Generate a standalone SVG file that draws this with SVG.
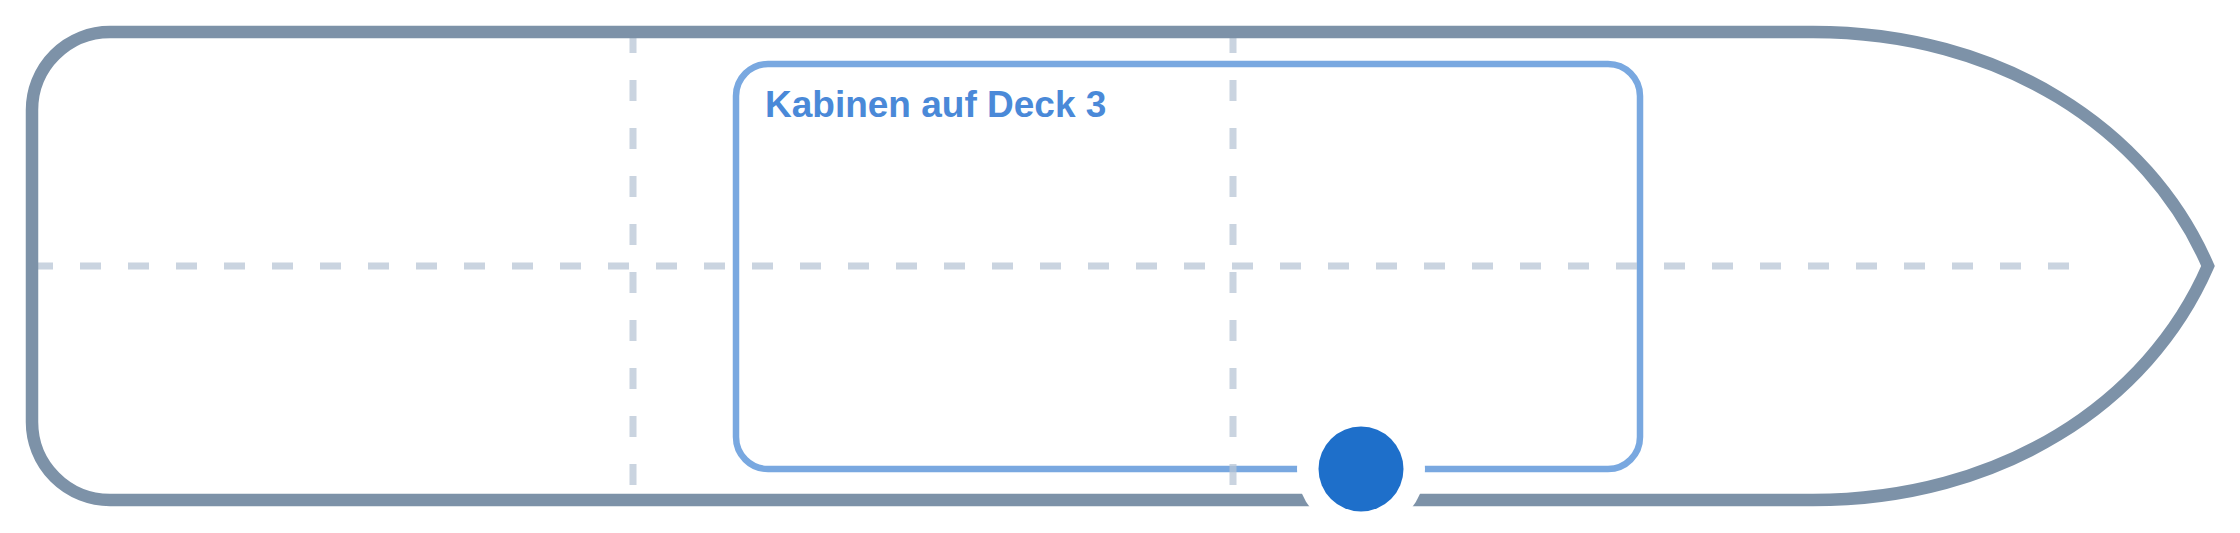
<svg xmlns="http://www.w3.org/2000/svg" width="2240" height="533" viewBox="0 0 2240 533">
  <style>
    .hull { fill: none; stroke: #7d92a8; stroke-width: 12.5; stroke-linejoin: miter; }
    .grid { fill: none; stroke: #b8c6d6; stroke-opacity: 0.75; stroke-width: 7; stroke-dasharray: 21 27; }
    .cabin { fill: none; stroke: #79a8e0; stroke-width: 6.5; }
    .label { font-family: "Liberation Sans", Arial, sans-serif; font-weight: bold; font-size: 37px; fill: #4a89d8; }
  </style>
  <rect width="2240" height="533" fill="#ffffff"/>
  <g id="cabins">
    <rect class="cabin" x="736" y="64" width="904" height="405" rx="32" ry="32"/>
    <text class="label" x="765" y="117">Kabinen auf Deck 3</text>
  </g>
  <g id="grid">
    <line class="grid" x1="32" y1="266" x2="2072" y2="266"/>
    <line class="grid" x1="633" y1="32" x2="633" y2="500"/>
    <line class="grid" x1="1233" y1="32" x2="1233" y2="500"/>
  </g>
  <g id="hull">
    <path class="hull" d="M 110 32 L 1813 32 C 2000 32 2148 128 2208 266 C 2148 404 2000 500 1813 500 L 110 500 A 78 78 0 0 1 32 422 L 32 110 A 78 78 0 0 1 110 32 Z"/>
  </g>
  <g id="marker">
    <circle cx="1361" cy="469" r="64" fill="#ffffff"/>
    <circle cx="1361" cy="469" r="42.5" fill="#1e6fca"/>
  </g>
</svg>
